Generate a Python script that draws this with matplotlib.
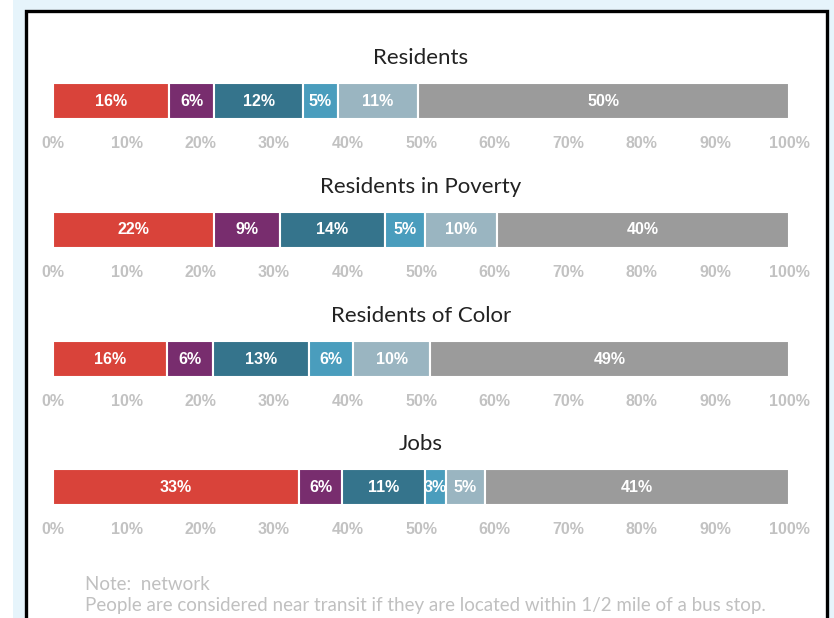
import matplotlib
matplotlib.use("Agg")
import matplotlib.pyplot as plt
from matplotlib.patches import Rectangle

# Data (percent of each group by distance / transit category)
groups = ["Residents", "Residents in Poverty", "Residents of Color", "Jobs"]
residents = [15.8, 6.1, 12.1, 4.7, 10.9, 50.4]
poverty = [21.9, 8.9, 14.3, 5.4, 9.8, 39.7]
color = [15.5, 6.2, 13.1, 6.0, 10.4, 48.8]
jobs = [33.4, 5.9, 11.2, 2.9, 5.3, 41.3]
series = [residents, poverty, color, jobs]
ticks = [0, 10, 20, 30, 40, 50, 60, 70, 80, 90, 100]
seg_colors = ["#d9433a", "#782d6e", "#35748c", "#4a9dbd", "#9ab5c1", "#9b9b9b"]

W, H = 834, 618
fig = plt.figure(figsize=(W / 100, H / 100), dpi=100)
fig.patch.set_facecolor("#e6f4fb")

# white strip on the far left, then the framed white panel
fig.patches.append(Rectangle((0, 0), 13 / W, 1, transform=fig.transFigure,
                             facecolor="white", edgecolor="none", zorder=-2))
fig.patches.append(Rectangle((25.5 / W, -0.05), 801 / W, 1.05 - 10.5 / H,
                             transform=fig.transFigure, facecolor="white",
                             edgecolor="black", linewidth=2.4, zorder=-2))

bar_left, bar_right = 53, 789
bar_tops = [83, 212, 341, 469]
bar_h = 36

for name, vals, top in zip(groups, series, bar_tops):
    ax = fig.add_axes([bar_left / W, 1 - (top + bar_h) / H,
                       (bar_right - bar_left) / W, bar_h / H])
    start = 0
    for v, c in zip(vals, seg_colors):
        ax.barh(0, v, left=start, height=1, color=c, edgecolor="white", linewidth=1.5)
        ax.text(start + v / 2, 0, f"{round(v)}%", ha="center", va="center",
                color="white", fontsize=11.5, fontweight="bold",
                family="Liberation Sans")
        start += v
    ax.set_xlim(0, 100)
    ax.set_ylim(-0.5, 0.5)
    ax.set_yticks([])
    ax.set_xticks(ticks)
    ax.set_xticklabels([f"{t}%" for t in ticks], fontsize=11.5, fontweight="bold",
                       color="#c2c2c2", family="Liberation Sans")
    ax.tick_params(axis="x", length=0, pad=12)
    for s in ax.spines.values():
        s.set_visible(False)
    ax.patch.set_alpha(0)
    fig.text(421 / W, 1 - (top - 25) / H, name, ha="center", va="center",
             fontsize=16, family="Lato", color="#222222")

fig.text(85 / W, 1 - 584 / H, "Note:  network", ha="left", va="center",
         fontsize=13.5, family="Lato", color="#c0c0c0")
fig.text(85 / W, 1 - 605 / H,
         "People are considered near transit if they are located within 1/2 mile of a bus stop.",
         ha="left", va="center", fontsize=13.5, family="Lato", color="#c0c0c0")

fig.savefig("out.png", dpi=100, facecolor=fig.get_facecolor())
